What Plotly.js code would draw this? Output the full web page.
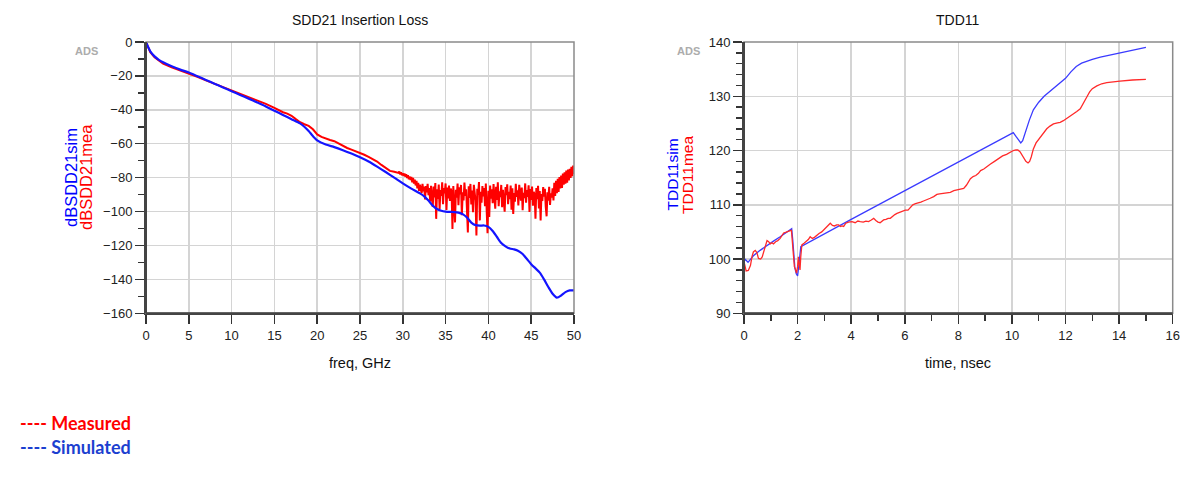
<!DOCTYPE html>
<html>
<head>
<meta charset="utf-8">
<script src="https://cdn.plot.ly/plotly-3.0.1.min.js"></script>
<style>html,body{margin:0;padding:0;background:#fff;}#chart{width:1181px;height:478px;}</style>
</head>
<body>
<div id="chart"></div>
<script>
// ---------- SDD21 Insertion Loss (left) ----------
const simFreq = [0,0.25,0.5,1,1.5,2,3,4,5,6,7,8,9,10,11,12,13,14,15,16,17,18,18.5,19,19.5,20,21,22,23,24,25,26,27,28,29,30,31,32,32.5,33,33.5,34,34.5,35,35.5,36,36.5,37,37.5,38,38.5,39,39.5,40,40.5,41,41.5,42,42.5,43,43.5,44,44.5,45,45.5,46,46.5,47,47.5,48,48.5,49,49.5,50];
const simDB = [0,-3,-5.5,-8.5,-10.5,-12,-14.3,-16.3,-18,-20.2,-22.4,-24.6,-26.8,-29,-31.2,-33.4,-35.7,-38,-40.5,-43,-45.5,-48,-50,-52.5,-55.5,-58,-60.5,-62,-63.8,-65.8,-68,-70.5,-73.5,-76.7,-80,-83.4,-86.5,-89.3,-91,-93.5,-96.5,-98.5,-99.5,-100,-100.2,-100.3,-100.6,-101.5,-103.5,-106.5,-108,-108.3,-108.2,-109,-111.5,-115,-118.5,-120.5,-121.8,-122.3,-123.2,-125,-128,-131,-133.5,-136,-140,-144.5,-148.5,-150.8,-149.5,-147.5,-146.5,-146.5];

const meaFreqSmooth = [0,0.25,0.5,1,1.5,2,3,4,5,6,7,8,9,10,11,12,13,14,15,15.5,16,16.5,17,17.5,18,18.5,19,19.5,20,20.5,21,21.5,22,22.5,23,23.5,24,24.5,25,25.5,26,26.5,27,27.5,28,28.5,29,29.4];
const meaDBSmooth = [0,-3.5,-6,-9,-11,-12.8,-15,-16.8,-18.3,-20.5,-22.6,-24.6,-26.4,-28.2,-30.2,-32.3,-34.3,-36.5,-38.8,-40.3,-41.4,-42.2,-43.5,-45.5,-47.3,-48.5,-49.5,-51.5,-54.5,-56,-57,-57.8,-58.5,-60,-61.5,-62.5,-63.5,-64.5,-65.3,-66.5,-67.8,-69,-70.5,-72.5,-74.5,-76,-76.5,-77];
// dense measured samples from 29.5 GHz to 50.0 GHz, every 0.1 GHz
const meaNoisyStart = 29.5, meaNoisyStep = 0.1;
const meaDBNoisy = [
-77.2,-76.4,-78.1,-76.9,-78.6,-77.4,-78.9,-77.6,-79.4,-78.0,
-80.2,-78.6,-80.9,-79.3,-81.4,-79.6,-82.8,-80.1,-83.5,-81.2,
-84.6,-81.9,-86.3,-83.0,-87.8,-84.1,-86.0,-89.2,-83.7,-88.1,
-85.2,-92.8,-84.9,-88.7,-83.6,-90.4,-86.2,-94.1,-84.8,-89.9,
-97.2,-85.3,-91.6,-83.2,-104.3,-86.8,-92.5,-84.1,-98.4,-87.3,
-90.8,-82.7,-95.6,-86.1,-89.3,-83.4,-99.1,-85.9,-92.2,-84.6,
-93.7,-86.4,-88.5,-110.2,-84.9,-95.3,-106.4,-87.1,-91.8,-83.5,
-96.2,-85.7,-89.9,-84.3,-102.1,-88.6,-93.4,-82.9,-90.7,-86.8,
-97.5,-112.3,-85.1,-91.9,-83.7,-95.8,-87.6,-100.4,-84.2,-89.3,
-93.6,-114.1,-86.5,-90.2,-82.6,-105.2,-88.3,-94.7,-84.9,-91.1,
-86.2,-96.9,-83.4,-99.5,-112.8,-87.7,-103.2,-84.6,-92.4,-86.9,
-95.1,-83.8,-90.6,-98.3,-85.4,-93.2,-82.7,-96.8,-88.1,-91.5,
-84.3,-97.4,-87.2,-92.9,-100.1,-85.6,-90.3,-83.9,-95.7,-88.4,
-92.6,-84.7,-98.9,-86.3,-101.4,-89.1,-94.2,-83.6,-91.3,-87.5,
-96.4,-84.2,-89.7,-93.6,-85.8,-99.2,-88.9,-92.1,-83.4,-94.8,
-87.3,-91.4,-84.5,-100.3,-86.7,-93.1,-85.2,-96.6,-88.4,-90.2,
-104.2,-86.1,-92.7,-84.8,-98.1,-87.9,-105.3,-89.6,-93.8,-85.5,
-91.2,-86.6,-97.3,-102.8,-88.7,-93.5,-85.4,-96.1,-89.2,-91.7,
-86.3,-93.4,-83.1,-90.8,-81.9,-89.2,-80.7,-88.5,-79.6,-86.3,
-78.8,-86.1,-77.6,-84.2,-76.9,-83.6,-75.8,-82.9,-75.2,-81.7,
-74.8,-80.1,-73.6,-79.2,-72.9,-77.8];

// ---------- TDD11 (right) ----------
const tddSimTime = [0,0.05,0.15,0.35,0.6,0.85,1.1,1.35,1.6,1.78,1.82,1.86,1.9,1.95,2.0,2.04,2.08,2.12,4,6,8,10.05,10.15,10.25,10.33,10.4,10.5,10.65,10.8,11,11.2,11.5,11.8,12,12.2,12.4,12.6,12.8,13,13.3,13.6,14,14.5,15];
const tddSimOhm = [99.6,99.9,99.4,100.6,101.6,102.5,103.3,104.1,104.9,105.6,103.5,100.5,98.3,97.3,96.9,98.5,101.3,102.3,107.3,112.6,117.9,123.3,122.6,121.8,121.4,121.8,123.4,125.6,127.5,128.9,130.0,131.2,132.4,133.3,134.5,135.5,136.1,136.5,136.8,137.2,137.5,138.0,138.5,139.0];

const tddMeaTime = [0,0.04,0.08,0.16,0.24,0.3,0.35,0.42,0.48,0.54,0.62,0.68,0.74,0.8,0.86,0.92,0.98,1.04,1.1,1.18,1.26,1.35,1.42,1.48,1.55,1.62,1.7,1.77,1.8,1.84,1.88,1.92,1.96,2.0,2.03,2.06,2.09,2.12,2.16,2.24,2.32,2.4,2.47,2.55,2.63,2.72,2.8,2.9,3.0,3.09,3.16,3.22,3.3,3.38,3.46,3.53,3.6,3.66,3.72,3.8,3.9,4.03,4.15,4.25,4.34,4.45,4.55,4.65,4.75,4.84,4.92,5.0,5.08,5.15,5.21,5.3,5.38,5.46,5.55,5.63,5.71,5.8,5.9,6.02,6.12,6.2,6.3,6.4,6.5,6.6,6.7,6.83,6.95,7.08,7.2,7.3,7.45,7.6,7.7,7.83,7.95,8.05,8.2,8.3,8.38,8.45,8.55,8.65,8.75,8.83,8.95,9.05,9.2,9.35,9.5,9.65,9.8,9.94,10.05,10.15,10.22,10.3,10.37,10.45,10.52,10.6,10.66,10.72,10.8,10.9,11.0,11.1,11.2,11.3,11.42,11.55,11.7,11.8,11.92,12.05,12.2,12.3,12.42,12.55,12.65,12.73,12.82,12.9,13.0,13.17,13.35,13.54,13.8,14.03,14.5,15.0];
const tddMeaOhm = [99.5,98.2,97.8,97.9,98.8,100.5,101.3,101.6,101.2,100.1,100.0,100.4,101.4,102.8,103.4,103.2,102.8,103.0,102.8,103.2,103.4,103.8,104.4,104.8,104.9,105.1,105.2,105.3,103.5,100.5,98.6,98.1,97.4,98.6,100.4,99.0,98.0,100.5,102.6,102.9,103.2,103.6,104.1,103.8,104.0,104.4,104.7,105.0,105.5,106.0,106.4,106.6,106.2,106.1,106.3,106.3,106.0,106.1,106.0,106.6,106.8,106.9,106.7,107.0,106.9,106.8,107.0,106.9,107.2,107.5,107.1,106.8,106.7,107.0,107.2,107.3,107.5,107.5,107.9,108.2,108.4,108.6,108.8,109.0,109.0,109.4,110.0,110.2,110.3,110.5,110.7,110.9,111.2,111.5,111.9,112.0,112.1,112.1,112.3,112.6,112.7,112.8,113.0,113.6,114.3,114.8,115.2,115.4,115.8,116.3,116.6,117.0,117.5,118.0,118.5,119.0,119.3,119.7,120.0,120.1,120.1,119.8,119.2,118.5,118.0,117.7,118.0,118.8,120.3,121.4,122.1,122.7,123.4,124.0,124.5,124.9,125.1,125.2,125.5,125.9,126.4,126.8,127.2,127.7,128.5,129.3,130.1,130.8,131.4,131.9,132.3,132.5,132.7,132.8,133.0,133.1];

// labels
const leftTitle = 'SDD21 Insertion Loss';
const rightTitle = 'TDD11';
const leftXTitle = 'freq, GHz';
const rightXTitle = 'time, nsec';
const leftYSim = 'dBSDD21sim', leftYMea = 'dBSDD21mea';
const rightYSim = 'TDD11sim', rightYMea = 'TDD11mea';
const legendMeasured = '---- Measured';
const legendSimulated = '---- Simulated';

// build measured full series
const meaFreq = meaFreqSmooth.slice();
const meaDB = meaDBSmooth.slice();
meaDBNoisy.forEach((v, i) => {
  meaFreq.push(+(meaNoisyStart + i * meaNoisyStep).toFixed(2));
  meaDB.push(v);
});

const W = 1181, H = 478;
const px = x => x / W;
const py = y => 1 - y / H;

const RED = '#ff0000', BLUE = '#1414ff';
const FONT = 'Liberation Sans, Arial, sans-serif';

const traces = [
  {x: meaFreq, y: meaDB, type: 'scatter', mode: 'lines', line: {color: RED, width: 2}, xaxis: 'x', yaxis: 'y', hoverinfo: 'skip'},
  {x: simFreq, y: simDB, type: 'scatter', mode: 'lines', line: {color: BLUE, width: 2.2, shape: 'spline', smoothing: 0.6}, xaxis: 'x', yaxis: 'y', hoverinfo: 'skip'},
  {x: tddSimTime, y: tddSimOhm, type: 'scatter', mode: 'lines', line: {color: '#3b3bff', width: 1.3}, xaxis: 'x2', yaxis: 'y2', hoverinfo: 'skip'},
  {x: tddMeaTime, y: tddMeaOhm, type: 'scatter', mode: 'lines', line: {color: '#ff2a2a', width: 1.3}, xaxis: 'x2', yaxis: 'y2', hoverinfo: 'skip'}
];

const axisCommon = {
  showgrid: true, gridcolor: '#d4d4d4', gridwidth: 1.5,
  zeroline: false, showline: true, linecolor: '#444', linewidth: 2,
  ticks: 'outside', ticklen: 9, tickwidth: 1.5, tickcolor: '#333',
  tickfont: {family: FONT, size: 13, color: '#222'},
  fixedrange: true
};

const yDom = [py(313.3), py(42)];

const layout = {
  width: W, height: H,
  margin: {l: 0, r: 0, t: 0, b: 0},
  paper_bgcolor: '#fff', plot_bgcolor: '#fff',
  showlegend: false,
  xaxis: Object.assign({}, axisCommon, {domain: [px(146), px(574)], range: [0, 50], dtick: 5, tick0: 0, anchor: 'y'}),
  yaxis: Object.assign({}, axisCommon, {domain: yDom, range: [-160, 0], dtick: 20, tick0: 0, anchor: 'x',
    minor: {dtick: 10, ticks: 'outside', ticklen: 6, tickcolor: '#333', tickwidth: 1.5, showgrid: false}}),
  xaxis2: Object.assign({}, axisCommon, {domain: [px(744), px(1172.7)], range: [0, 16], dtick: 2, tick0: 0, anchor: 'y2',
    minor: {dtick: 1, ticks: 'outside', ticklen: 6, tickcolor: '#333', tickwidth: 1.5, showgrid: false}}),
  yaxis2: Object.assign({}, axisCommon, {domain: yDom, range: [90, 140], dtick: 10, tick0: 0, anchor: 'x2',
    minor: {dtick: 2, ticks: 'outside', ticklen: 6, tickcolor: '#333', tickwidth: 1.5, showgrid: false}}),
  shapes: [
    {type: 'rect', xref: 'x domain', yref: 'y domain', x0: 0, x1: 1, y0: 0, y1: 1, line: {color: '#8a8a8a', width: 1.5}, layer: 'above'},
    {type: 'rect', xref: 'x2 domain', yref: 'y2 domain', x0: 0, x1: 1, y0: 0, y1: 1, line: {color: '#8a8a8a', width: 1.5}, layer: 'above'},
    {type: 'line', xref: 'x domain', yref: 'y domain', x0: 0, x1: 0, y0: 0, y1: 1, line: {color: '#444', width: 2}, layer: 'above'},
    {type: 'line', xref: 'x domain', yref: 'y domain', x0: 0, x1: 1, y0: 0, y1: 0, line: {color: '#444', width: 2}, layer: 'above'},
    {type: 'line', xref: 'x2 domain', yref: 'y2 domain', x0: 0, x1: 0, y0: 0, y1: 1, line: {color: '#444', width: 2}, layer: 'above'},
    {type: 'line', xref: 'x2 domain', yref: 'y2 domain', x0: 0, x1: 1, y0: 0, y1: 0, line: {color: '#444', width: 2}, layer: 'above'}
  ],
  annotations: [
    {text: leftTitle, xref: 'paper', yref: 'paper', x: px(360), y: py(20), showarrow: false, xanchor: 'center', yanchor: 'middle', font: {family: FONT, size: 14, color: '#111'}},
    {text: rightTitle, xref: 'paper', yref: 'paper', x: px(958), y: py(20), showarrow: false, xanchor: 'center', yanchor: 'middle', font: {family: FONT, size: 14, color: '#111'}},
    {text: leftXTitle, xref: 'paper', yref: 'paper', x: px(360), y: py(363), showarrow: false, xanchor: 'center', yanchor: 'middle', font: {family: FONT, size: 14.5, color: '#111'}},
    {text: rightXTitle, xref: 'paper', yref: 'paper', x: px(958), y: py(363), showarrow: false, xanchor: 'center', yanchor: 'middle', font: {family: FONT, size: 14.5, color: '#111'}},
    {text: leftYSim, xref: 'paper', yref: 'paper', x: px(70.5), y: py(177.5), showarrow: false, textangle: -90, xanchor: 'center', yanchor: 'middle', font: {family: FONT, size: 16.5, color: '#0000ff'}},
    {text: leftYMea, xref: 'paper', yref: 'paper', x: px(85.5), y: py(177.5), showarrow: false, textangle: -90, xanchor: 'center', yanchor: 'middle', font: {family: FONT, size: 16.5, color: '#ff0000'}},
    {text: rightYSim, xref: 'paper', yref: 'paper', x: px(672), y: py(174.5), showarrow: false, textangle: -90, xanchor: 'center', yanchor: 'middle', font: {family: FONT, size: 15.5, color: '#0000ff'}},
    {text: rightYMea, xref: 'paper', yref: 'paper', x: px(687), y: py(175), showarrow: false, textangle: -90, xanchor: 'center', yanchor: 'middle', font: {family: FONT, size: 15.5, color: '#ff0000'}},
    {text: '<b>ADS</b>', xref: 'paper', yref: 'paper', x: px(86.5), y: py(51), showarrow: false, xanchor: 'center', yanchor: 'middle', font: {family: FONT, size: 11, color: '#acacac'}},
    {text: '<b>ADS</b>', xref: 'paper', yref: 'paper', x: px(688.5), y: py(51), showarrow: false, xanchor: 'center', yanchor: 'middle', font: {family: FONT, size: 11, color: '#acacac'}},
    {text: '<b>' + legendMeasured + '</b>', xref: 'paper', yref: 'paper', x: px(18), y: py(423), showarrow: false, xanchor: 'left', yanchor: 'middle', font: {family: 'Lato, Carlito, sans-serif', size: 18, color: '#ff0000'}},
    {text: '<b>' + legendSimulated + '</b>', xref: 'paper', yref: 'paper', x: px(18), y: py(447), showarrow: false, xanchor: 'left', yanchor: 'middle', font: {family: 'Lato, Carlito, sans-serif', size: 18, color: '#1c3fd0'}}
  ]
};

Plotly.newPlot('chart', traces, layout, {displayModeBar: false, staticPlot: true});
</script>
</body>
</html>
